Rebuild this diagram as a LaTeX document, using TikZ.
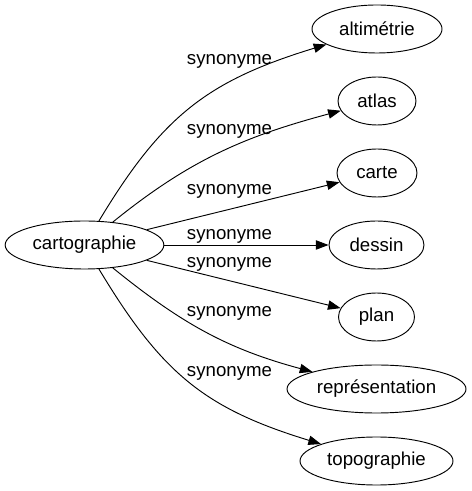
\documentclass[tikz,border=0pt]{standalone}
\usepackage{fontspec}
\setmainfont{Liberation Sans}
\usetikzlibrary{
    shapes.geometric,
    arrows.meta
}
\tikzset{
    % Base style for all word nodes - plain ellipse
    word/.style={
        ellipse,
        draw,
        line width=0.7pt,
        inner sep=0pt,
        minimum height=36pt,
        font=\fontsize{14}{16}\selectfont,
    },
    % Arrow style - filled triangle tip
    arrow/.style={
        -{Triangle[length=9.5pt, width=7pt]},
        line width=0.7pt,
    },
    % Label style for the relation
    edge label/.style={
        font=\fontsize{14}{16}\selectfont,
        anchor=base,
        inner sep=0pt,
    },
}

\begin{document}
\begin{tikzpicture}[x=0.75pt, y=0.75pt]
    \useasboundingbox (0,0) rectangle (471,491);

    \node (carto) [word, minimum width=119pt] at (84.5,246) {cartographie};
    \node (alti) [word, minimum width=97.5pt] at (377,462) {altimétrie};
    \node (atlas) [word, minimum width=58.5pt] at (377,390) {atlas};
    \node (carte) [word, minimum width=60pt] at (377,318) {carte};
    \node (dessin) [word, minimum width=71.25pt] at (376.5,246) {dessin};
    \node (plan) [word, minimum width=57pt] at (376.5,174) {plan};
    \node (repr) [word, minimum width=134.25pt] at (376.5,102) {représentation};
    \node (topo) [word, minimum width=114.75pt] at (376.5,30) {topographie};

    \node (lab1) [edge label] at (229.5,426) {synonyme};
    \node (lab2) [edge label] at (229.5,356) {synonyme};
    \node (lab3) [edge label] at (229.5,296) {synonyme};
    \node (lab4) [edge label] at (229.5,251) {synonyme};
    \node (lab5) [edge label] at (229.5,223) {synonyme};
    \node (lab6) [edge label] at (229.5,174) {synonyme};
    \node (lab7) [edge label] at (229.5,114) {synonyme};

    \draw [arrow] (carto) to[out=59, in=197, looseness=1.1] (alti);
    \draw [arrow] (carto) to[out=39, in=195] (atlas);
    \draw [arrow] (carto) -- (carte);
    \draw [arrow] (carto) -- (dessin);
    \draw [arrow] (carto) -- (plan);
    \draw [arrow] (carto) to[out=-39, in=165] (repr);
    \draw [arrow] (carto) to[out=-59, in=163, looseness=1.1] (topo);
\end{tikzpicture}
\end{document}
